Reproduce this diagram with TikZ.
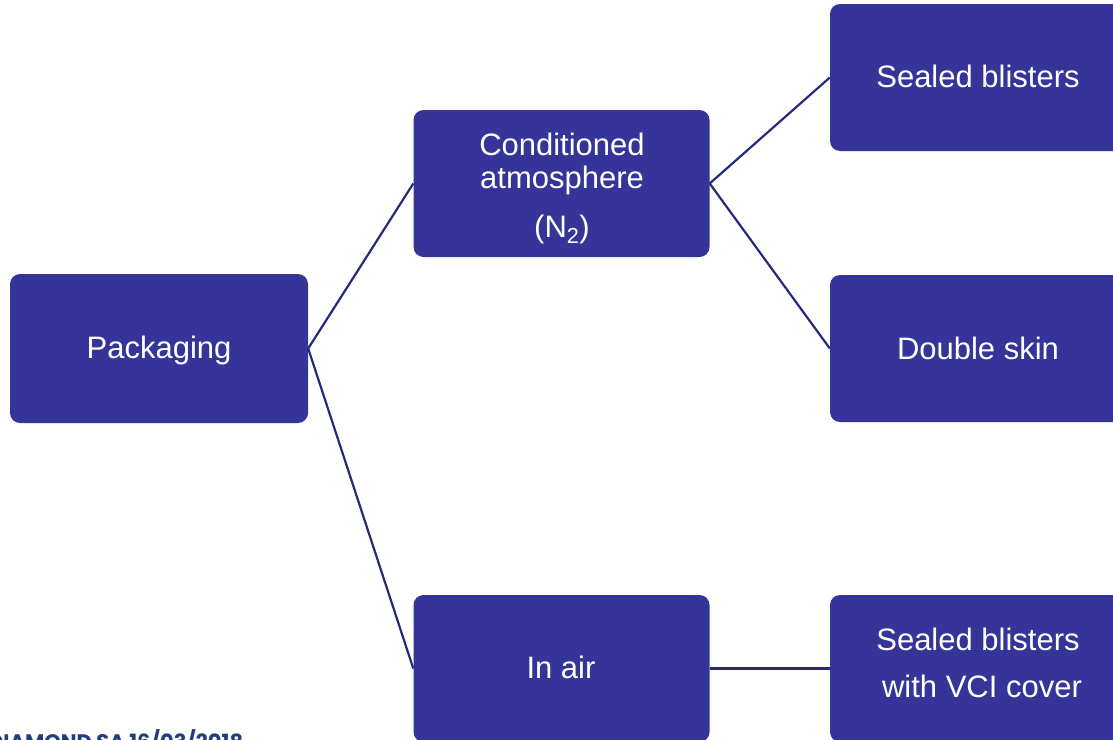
\documentclass[tikz,border=0pt]{standalone}
\usepackage{fontspec}
\setmainfont{Liberation Sans}
\newfontfamily\footfont{Poppins}
\definecolor{boxblue}{RGB}{53,52,152}
\definecolor{linkblue}{RGB}{40,40,125}
\definecolor{footblue}{RGB}{30,62,128}
\begin{document}
\begin{tikzpicture}[x=1pt,y=-1pt,
  box/.style={draw=none,fill=boxblue,rounded corners=10pt,minimum width=296pt,minimum height=147pt,inner sep=0pt},
  txt/.style={anchor=base,text=white,font=\fontsize{31}{31}\selectfont,inner sep=0pt},
  link/.style={draw=linkblue,line width=2.2pt}]
\useasboundingbox (0,0) rectangle (1113,739);
% boxes
\node[box,minimum width=298pt,minimum height=149pt] (pack) at (159,348.5) {};
\node[box] (cond) at (561.5,183.5) {};
\node[box] (air) at (561.5,668.5) {};
\node[box] (seal) at (978,77.5) {};
\node[box] (skin) at (978,348.5) {};
\node[box] (vci) at (978,668.5) {};
% texts
\node[txt] (tpack) at (159,358) {Packaging};
\node[txt] (tcond1) at (562,155) {Conditioned};
\node[txt] (tcond2) at (562,188) {atmosphere};
\node[txt] (tcond3) at (562,237) {(N\textsubscript{2})};
\node[txt] (tair) at (561,678) {In air};
\node[txt] (tseal) at (978,87) {Sealed blisters};
\node[txt] (tskin) at (978,359) {Double skin};
\node[txt] (tvci1) at (978,650) {Sealed blisters};
\node[txt] (tvci2) at (982,697) {with VCI cover};
% connectors
\draw[link] (pack.east) -- (cond.west);
\draw[link] (pack.east) -- (air.west);
\draw[link] (cond.east) -- (seal.west);
\draw[link] (cond.east) -- (skin.west);
\draw[link] (air.east) -- (vci.west);
% footer
\node[anchor=base west,inner sep=0pt,text=footblue,font=\footfont\bfseries\fontsize{21}{21}\selectfont] (foot) at (-12,749) {DIAMOND SA 16/03/2018};
\end{tikzpicture}
\end{document}
